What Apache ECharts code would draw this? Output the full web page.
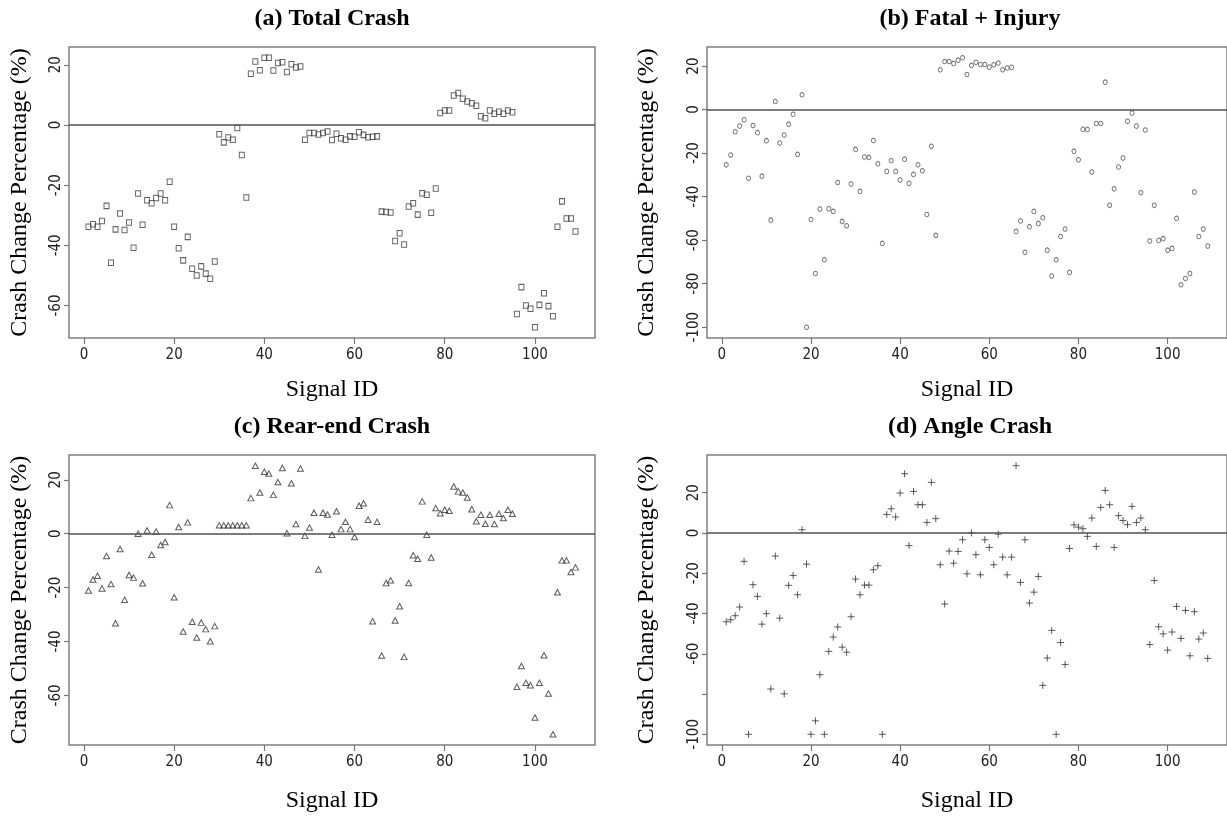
<!DOCTYPE html>
<html><head><meta charset="utf-8">
<script src="https://cdn.jsdelivr.net/npm/echarts@6/dist/echarts.min.js"></script>
<style>html,body{margin:0;padding:0;background:#fff}#c{width:1227px;height:816px}</style>
</head><body><div id="c"></div>
<script>
const signalIds = [1,2,3,4,5,6,7,8,9,10,11,12,13,14,15,16,17,18,19,20,21,22,23,24,25,26,27,28,29,30,
31,32,33,34,35,36,37,38,39,40,41,42,43,44,45,46,47,48,49,50,51,52,53,54,55,56,57,58,59,60,
61,62,63,64,65,66,67,68,69,70,71,72,73,74,75,76,77,78,79,80,81,82,83,84,85,86,87,88,89,90,
91,92,93,94,95,96,97,98,99,100,101,102,103,104,105,106,107,108,109];

const totalCrash = [-33.8,-33,-33.8,-31.9,-26.9,-45.8,-34.7,-29.4,-34.9,-32.4,
-40.8,-22.8,-33.2,-25,-26,-24.3,-22.8,-25,-18.9,-33.8,
-41,-45,-37.2,-47.8,-50,-47,-49.4,-51.1,-45.4,-3.1,
-5.8,-4.2,-4.9,-1,-10,-24.1,17,21.1,18.2,22.3,
22.3,18.1,20.6,20.8,17.6,20.2,19.1,19.4,-4.9,-2.7,
-2.7,-3.2,-2.7,-2.2,-5,-2.9,-4.4,-4.9,-3.8,-3.9,
-2.4,-3.3,-4.1,-3.9,-3.8,-28.8,-28.9,-29.1,-38.6,-36,
-39.7,-27.1,-26,-29.8,-22.7,-23.2,-29.2,-21.1,4,4.8,
4.8,9.8,10.6,8.7,7.8,7.2,6.4,2.9,2.2,4.8,
3.7,4.4,3.7,4.8,4.2,-62.8,-53.9,-60,-61.1,-67.2,
-59.8,-55.9,-60.2,-63.6,-33.8,-25.4,-31.1,-31.1,-35.4];

const fatalInjury = [-25.4,-20.9,-10.2,-7.6,-4.7,-31.6,-7.3,-10.6,-30.6,-14.3,
-50.8,3.7,-15.4,-11.7,-6.7,-2.2,-20.6,6.8,-100,-50.5,
-75.3,-45.7,-69,-45.6,-46.8,-33.5,-51.4,-53.4,-34.2,-18.3,
-37.6,-21.8,-22,-14.2,-24.9,-61.5,-28.4,-23.5,-28.4,-32.4,
-22.8,-33.9,-29.8,-25.4,-28.1,-48.2,-16.9,-57.8,18.3,22.1,
22.1,21.2,22.7,23.8,16.1,20.3,21.7,20.7,20.7,19.5,
20.6,21.4,18.3,19.1,19.4,-56,-51.2,-65.6,-53.8,-46.8,
-52.3,-49.7,-64.6,-76.5,-69,-58.3,-54.9,-74.8,-19.1,-23.1,
-9.1,-9.1,-28.7,-6.4,-6.4,12.6,-44,-36.4,-26.4,-22.3,
-5.4,-1.6,-7.6,-38.2,-9.4,-60.4,-44,-60.1,-59.3,-64.6,
-63.8,-50,-80.5,-77.6,-75.3,-37.9,-58.3,-54.9,-62.7];

const rearEnd = [-21.1,-17,-15.6,-20.3,-8.3,-18.7,-33.2,-5.7,-24.5,-15.3,
-16.3,0,-18.4,1.2,-7.8,0.8,-4.2,-3.1,10.6,-23.6,
2.5,-36.3,4.2,-32.7,-38.5,-33,-35.4,-39.9,-34.3,3.1,
3.1,3.1,3.1,3.1,3.1,3.1,13.2,25.2,15.3,23,
22.3,14.4,19.2,24.4,0.2,18.7,3.6,24.2,-0.8,2.3,
7.8,-13.3,7.8,7.1,-0.4,8.3,1.7,4.4,1.7,-1.2,
10.4,11.3,5.2,-32.5,4.4,-45.2,-18.3,-17.3,-32.2,-26.9,
-45.7,-18.3,-8,-9.3,12,-0.4,-8.8,9.5,7.6,8.9,
8.5,17.5,15.7,15.3,13.4,9.1,4.6,7,3.7,7,
3.6,7.4,5.8,8.9,7.4,-56.8,-49.1,-55.3,-56.2,-68.2,
-55.3,-45.1,-59.3,-74.4,-21.7,-9.9,-9.9,-14.2,-12.5];

const angleCrash = [-44.1,-43.1,-41.1,-36.8,-14.1,-100,-25.7,-31.5,-45.3,-40.1,
-77.5,-11.5,-42.3,-79.9,-26,-21.1,-30.7,1.6,-15.5,-100,
-93.3,-70.4,-100,-58.8,-51.7,-46.7,-56.7,-59.2,-41.6,-22.9,
-30.7,-25.9,-25.9,-18.3,-16.3,-100,9.2,12,7.9,19.8,
29.4,-6.3,20.6,14,14,5.2,25.1,7.1,-15.8,-35.3,
-9,-15,-9.2,-3.4,-20.3,0,-10.8,-20.8,-3.4,-7.2,
-15.8,-0.6,-12,-20.8,-12,33.4,-24.6,-3.4,-34.8,-29.4,
-21.6,-75.7,-62.1,-48.4,-100,-54.4,-65.3,-7.7,4,2.9,
2.1,-1.7,7.4,-6.7,12.7,21.1,14,-7.2,8.6,6.2,
4.1,13.2,5.2,7.4,1.6,-55.4,-23.6,-46.6,-50.1,-58.2,
-49.2,-36.5,-52.4,-38.5,-61,-39.1,-52.7,-49.7,-62.3];

const panelTitles = ['(a) Total Crash', '(b) Fatal + Injury', '(c) Rear-end Crash', '(d) Angle Crash'];
const xLabel = 'Signal ID';
const yLabel = 'Crash Change Percentage (%)';
const xTicks = [0, 20, 40, 60, 80, 100];
const yTicksA = [20, 0, -20, -40, -60];
const yTicksB = [20, 0, -20, -40, -60, -80, -100];
const yTicksC = [20, 0, -20, -40, -60];
const yTicksD = [20, 0, -20, -40, -60, -80, -100];
const yLabelsD = [20, 0, -20, -40, -60, -100];

const panels = [
  {data: totalCrash, yMin: -70.8, yMax: 25.9, ticks: yTicksA, labels: yTicksA,
   grid: {left: 69, top: 47, width: 526, height: 291}, yGap: 37, xGap: 40,
   symbol: 'rect', size: [5, 5.5], stroke: '#3c3c3c'},
  {data: fatalInjury, yMin: -104.95, yMax: 28.75, ticks: yTicksB, labels: yTicksB,
   grid: {left: 707, top: 47, width: 526, height: 291}, yGap: 48, xGap: 40,
   symbol: 'circle', size: [4, 4.6], stroke: '#505050'},
  {data: rearEnd, yMin: -78.4, yMax: 29.2, ticks: yTicksC, labels: yTicksC,
   grid: {left: 69, top: 455, width: 526, height: 290}, yGap: 37, xGap: 44,
   symbol: 'triangle', size: [6, 5.5], stroke: '#333333'},
  {data: angleCrash, yMin: -105.3, yMax: 38.7, ticks: yTicksD, labels: yLabelsD,
   grid: {left: 707, top: 455, width: 526, height: 290}, yGap: 48, xGap: 44,
   symbol: 'path://M0,-10L0,10M-10,0L10,0', size: 7, stroke: '#333333'}
];

const tickFont = "'Liberation Sans Narrow', 'Arial Narrow', 'DejaVu Sans Condensed', sans-serif";
const serif = "'Liberation Serif', 'Times New Roman', serif";

const option = {
  animation: false,
  backgroundColor: '#ffffff',
  title: panels.map((p, i) => ({
    text: panelTitles[i],
    left: p.grid.left + p.grid.width / 2,
    top: p.grid.top - 40,
    textAlign: 'center',
    padding: 0,
    textStyle: {fontFamily: serif, fontWeight: 'bold', fontSize: 24, color: '#000'}
  })),
  grid: panels.map(p => Object.assign({show: true, borderColor: '#808080', borderWidth: 1.5,
    backgroundColor: 'transparent', containLabel: false}, p.grid)),
  xAxis: panels.map((p, i) => ({
    type: 'value', gridIndex: i, min: -3.32, max: 113.32, position: 'bottom',
    splitLine: {show: false}, axisLine: {show: false, onZero: false},
    axisTick: {show: true, inside: false, customValues: xTicks, length: 6, lineStyle: {color: '#777', width: 1.2}},
    axisLabel: {customValues: xTicks, margin: 10, fontSize: 15, fontFamily: tickFont, color: '#222'},
    name: xLabel, nameLocation: 'middle', nameGap: p.xGap,
    nameTextStyle: {fontFamily: serif, fontSize: 24, color: '#000'}
  })),
  yAxis: panels.map((p, i) => ({
    type: 'value', gridIndex: i, min: p.yMin, max: p.yMax, position: 'left',
    splitLine: {show: false}, axisLine: {show: false, onZero: false},
    axisTick: {show: true, inside: false, customValues: p.ticks, length: 5, lineStyle: {color: '#777', width: 1.2}},
    axisLabel: {customValues: p.labels, rotate: 90, margin: 5, fontSize: 15, fontFamily: tickFont, color: '#222'},
    name: yLabel, nameLocation: 'middle', nameGap: p.yGap, nameRotate: 90,
    nameTextStyle: {fontFamily: serif, fontSize: 24, color: '#000'}
  })),
  series: panels.map((p, i) => ({
    type: 'scatter', xAxisIndex: i, yAxisIndex: i,
    data: signalIds.map((id, k) => [id, p.data[k]]),
    symbol: p.symbol, symbolSize: p.size,
    itemStyle: {color: 'transparent', borderColor: p.stroke, borderWidth: 1},
    emphasis: {disabled: true},
    markLine: {silent: true, symbol: 'none', label: {show: false},
      lineStyle: {color: '#505050', width: 1.5, type: 'solid'},
      emphasis: {disabled: true},
      data: [{yAxis: 0}]}
  }))
};

const chart = echarts.init(document.getElementById('c'), null, {renderer: 'canvas'});
chart.setOption(option);
</script>
</body></html>
